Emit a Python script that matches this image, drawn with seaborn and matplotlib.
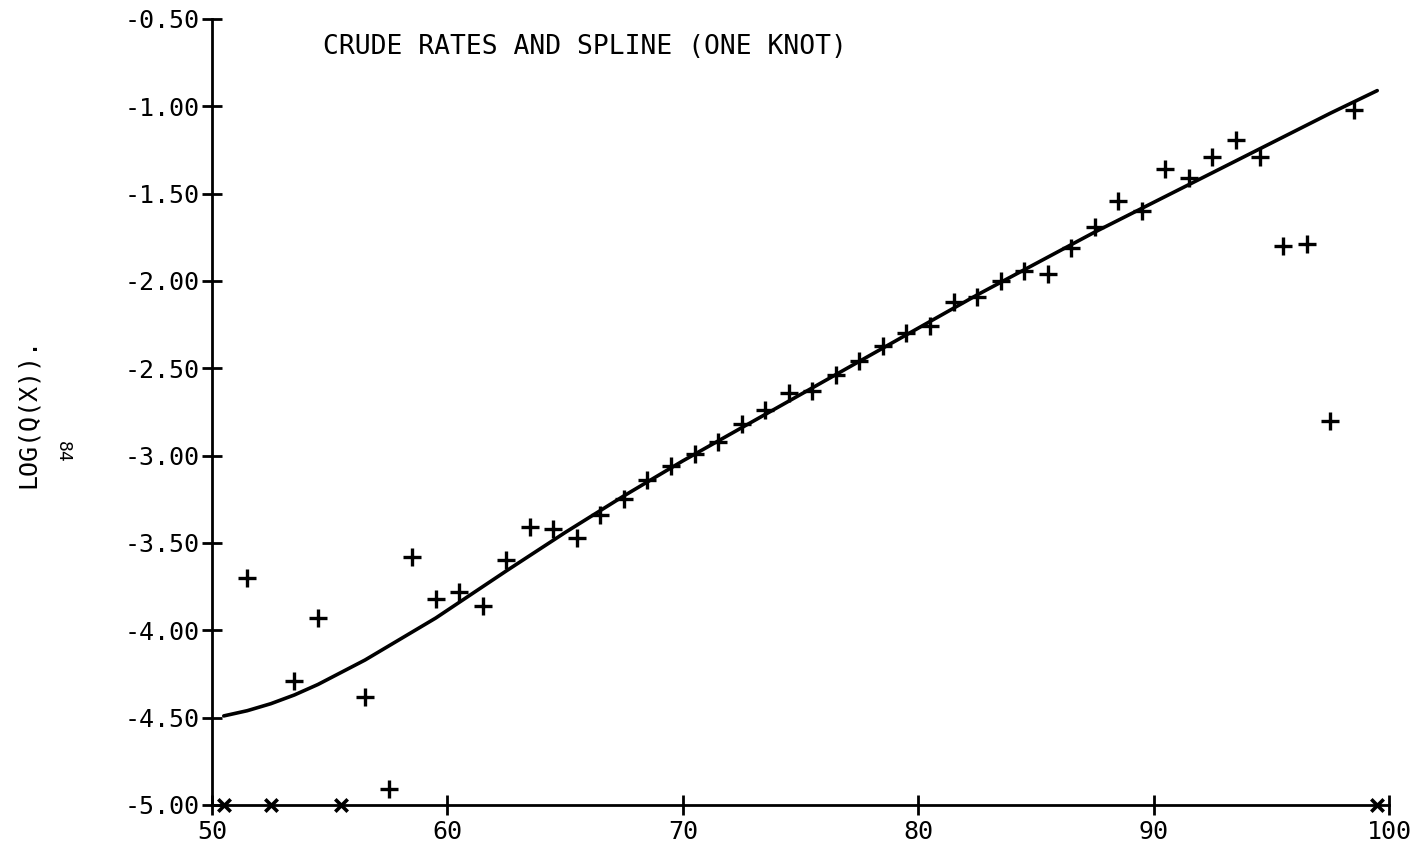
import matplotlib
matplotlib.use("Agg")
import matplotlib.pyplot as plt
import seaborn as sns
import pandas as pd

# crude rates (log scale), ages at mid-year
ages = [51.5, 53.5, 54.5, 56.5, 57.5, 58.5, 59.5, 60.5, 61.5, 62.5,
        63.5, 64.5, 65.5, 66.5, 67.5, 68.5, 69.5, 70.5, 71.5, 72.5,
        73.5, 74.5, 75.5, 76.5, 77.5, 78.5, 79.5, 80.5, 81.5, 82.5,
        83.5, 84.5, 85.5, 86.5, 87.5, 88.5, 89.5, 90.5, 91.5, 92.5,
        93.5, 94.5, 95.5, 96.5, 97.5, 98.5]
log_rates = [-3.70, -4.29, -3.93, -4.38, -4.91, -3.58, -3.82, -3.78, -3.86, -3.60,
             -3.41, -3.42, -3.47, -3.34, -3.25, -3.14, -3.06, -2.99, -2.92, -2.82,
             -2.74, -2.64, -2.63, -2.54, -2.46, -2.37, -2.30, -2.26, -2.12, -2.09,
             -2.00, -1.94, -1.96, -1.81, -1.69, -1.54, -1.60, -1.36, -1.41, -1.29,
             -1.19, -1.29, -1.80, -1.79, -2.80, -1.02]

# ages with zero deaths, drawn on the bottom axis
zero_ages = [50.5, 52.5, 55.5, 99.5]
zero_vals = [-5.0, -5.0, -5.0, -5.0]

# fitted spline (one knot)
spline_x = [50.5, 51.5, 52.5, 53.5, 54.5, 55.5, 56.5, 57.5, 58.5, 59.5, 60.5,
            61.5, 62.5, 65.0, 67.5, 70.0, 72.5, 75.0, 77.5, 80.0, 82.5,
            85.0, 87.5, 90.0, 92.5, 95.0, 97.5, 99.5]
spline_y = [-4.49, -4.46, -4.42, -4.37, -4.31, -4.24, -4.17, -4.09, -4.01, -3.93, -3.84,
            -3.75, -3.66, -3.44, -3.23, -3.03, -2.84, -2.65, -2.46, -2.27, -2.08,
            -1.90, -1.72, -1.55, -1.38, -1.21, -1.04, -0.91]

x_ticks = [50, 60, 70, 80, 90, 100]
y_ticks = [-5.0, -4.5, -4.0, -3.5, -3.0, -2.5, -2.0, -1.5, -1.0, -0.5]

sns.set_style("ticks")
plt.rcParams['font.family'] = ['DejaVu Sans Mono', 'DejaVu Sans']
plt.rcParams['text.color'] = 'black'

fig = plt.figure(figsize=(14.19, 8.49), dpi=100)
ax = fig.add_axes([212 / 1419, 1 - 805 / 849, (1389 - 212) / 1419, (805 - 19) / 849])

pts = pd.DataFrame({"age": ages, "lq": log_rates})
zeros = pd.DataFrame({"age": zero_ages, "lq": zero_vals})
spl = pd.DataFrame({"age": spline_x, "lq": spline_y})

sns.lineplot(data=spl, x="age", y="lq", color="black", linewidth=2.6, ax=ax)
sns.scatterplot(data=pts, x="age", y="lq", marker="+", s=150, color="black",
                linewidth=2.4, ax=ax, clip_on=False)
sns.scatterplot(data=zeros, x="age", y="lq", marker="x", s=80, color="black",
                linewidth=2.6, ax=ax, clip_on=False, zorder=5)

ax.set_xlim(50, 100)
ax.set_ylim(-5.0, -0.5)
ax.set_xticks(x_ticks)
ax.set_xticklabels([str(v) for v in x_ticks])
ax.set_yticks(y_ticks)
ax.set_yticklabels([f"{v:.2f}" for v in y_ticks])
ax.set_xlabel("")
ax.set_ylabel("")

for side in ["top", "right"]:
    ax.spines[side].set_visible(False)
for side in ["left", "bottom"]:
    ax.spines[side].set_linewidth(2)
    ax.spines[side].set_color("black")

ax.tick_params(axis="both", direction="inout", length=14, width=2, colors="black",
               labelsize=18)
ax.tick_params(axis="x", pad=4)
ax.tick_params(axis="y", pad=2)

ax.text(0.094, 0.964, "CRUDE RATES AND SPLINE (ONE KNOT)", transform=ax.transAxes,
        fontsize=19, ha="left", va="center", color="black")

fig.text(28 / 1419, 1 - 413 / 849, "LOG(Q(X)).", rotation=90, fontsize=18,
         ha="center", va="center", color="black")
fig.text(63 / 1419, 1 - 452 / 849, "84", rotation=-90, fontsize=13,
         ha="center", va="center", color="black")

fig.savefig("out.png", dpi=100, facecolor="white")
